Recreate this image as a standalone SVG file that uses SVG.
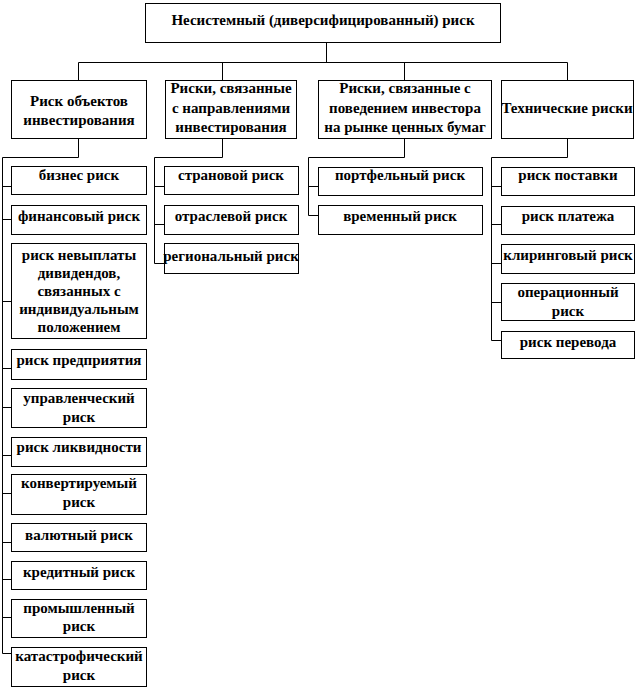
<svg xmlns="http://www.w3.org/2000/svg" width="638" height="688" viewBox="0 0 638 688">
<style>
rect{fill:#fff;stroke:#000;stroke-width:1}
text{font-family:"Liberation Serif","Times New Roman",serif;font-weight:bold;font-size:15px;fill:#000;text-anchor:middle;dominant-baseline:central}
.c path{fill:none;stroke:#000;stroke-width:1}
</style>
<rect x="0" y="0" width="638" height="688" style="stroke:none"/>
<g class="c" id="connectors">
<path d="M326.5 42V62.5M78.5 62.5H567.5M78.5 62.5V80M222.5 62.5V80M404.5 62.5V80M567.5 62.5V80"/>
<path d="M78.5 138V157.5H2.5V653.5M2.5 186.5H11M2.5 219.5H11M2.5 301.5H11M2.5 368.5H11M2.5 407.5H11M2.5 455.5H11M2.5 493.5H11M2.5 542.5H11M2.5 579.5H11M2.5 617.5H11M2.5 653.5H11"/>
<path d="M222.5 138V157.5H154.5V263.5M154.5 186.5H164M154.5 224.5H164M154.5 263.5H164"/>
<path d="M404.5 138V157.5H308.5V215.5M308.5 186.5H318M308.5 215.5H318"/>
<path d="M567.5 138V157.5H491.5V340.5M491.5 186.5H501M491.5 224.5H501M491.5 263.5H501M491.5 302.5H501M491.5 340.5H501"/>
</g>
<g id="root"><rect x="145.5" y="3.5" width="355" height="39"/><text x="323" y="20">Несистемный (диверсифицированный) риск</text></g>
<g id="n1"><rect x="11.5" y="80.5" width="135" height="58"/><text x="79" y="101">Риск объектов</text><text x="79" y="120">инвестирования</text></g>
<g id="n2"><rect x="165.5" y="80.5" width="131" height="58"/><text x="231" y="88">Риски, связанные</text><text x="231" y="108">с направлениями</text><text x="231" y="127">инвестирования</text></g>
<g id="n3"><rect x="318.5" y="80.5" width="173" height="58"/><text x="405" y="88">Риски, связанные с</text><text x="405" y="108">поведением инвестора</text><text x="405" y="127">на рынке ценных бумаг</text></g>
<g id="n4"><rect x="501.5" y="80.5" width="132" height="58"/><text x="567" y="108">Технические риски</text></g>
<g id="c1a"><rect x="11.5" y="166.5" width="135" height="28"/><text x="79" y="175">бизнес риск</text></g>
<g id="c1b"><rect x="11.5" y="205.5" width="135" height="29"/><text x="79" y="216">финансовый риск</text></g>
<g id="c1c"><rect x="11.5" y="243.5" width="135" height="95"/><text x="79" y="255">риск невыплаты</text><text x="79" y="273">дивидендов,</text><text x="79" y="291">связанных с</text><text x="79" y="309">индивидуальным</text><text x="79" y="327">положением</text></g>
<g id="c1d"><rect x="11.5" y="349.5" width="135" height="30"/><text x="79" y="360">риск предприятия</text></g>
<g id="c1e"><rect x="11.5" y="388.5" width="135" height="39"/><text x="79" y="398">управленческий</text><text x="79" y="417">риск</text></g>
<g id="c1f"><rect x="11.5" y="437.5" width="135" height="29"/><text x="79" y="447">риск ликвидности</text></g>
<g id="c1g"><rect x="11.5" y="474.5" width="135" height="40"/><text x="79" y="483">конвертируемый</text><text x="79" y="502">риск</text></g>
<g id="c1h"><rect x="11.5" y="523.5" width="135" height="28"/><text x="79" y="535">валютный риск</text></g>
<g id="c1i"><rect x="11.5" y="561.5" width="135" height="28"/><text x="79" y="572">кредитный риск</text></g>
<g id="c1j"><rect x="11.5" y="599.5" width="135" height="38"/><text x="79" y="608">промышленный</text><text x="79" y="626">риск</text></g>
<g id="c1k"><rect x="11.5" y="647.5" width="135" height="39"/><text x="79" y="656">катастрофический</text><text x="79" y="675">риск</text></g>
<g id="c2a"><rect x="164.5" y="166.5" width="134" height="28"/><text x="231" y="175">страновой риск</text></g>
<g id="c2b"><rect x="164.5" y="205.5" width="134" height="29"/><text x="231" y="216">отраслевой риск</text></g>
<g id="c2c"><rect x="164.5" y="243.5" width="134" height="30"/><text x="231" y="256">региональный риск</text></g>
<g id="c3a"><rect x="318.5" y="167.5" width="164" height="28"/><text x="400" y="175">портфельный риск</text></g>
<g id="c3b"><rect x="318.5" y="205.5" width="164" height="29"/><text x="400" y="216">временный риск</text></g>
<g id="c4a"><rect x="501.5" y="167.5" width="133" height="28"/><text x="568" y="175">риск поставки</text></g>
<g id="c4b"><rect x="501.5" y="206.5" width="133" height="28"/><text x="568" y="216">риск платежа</text></g>
<g id="c4c"><rect x="501.5" y="244.5" width="133" height="29"/><text x="568" y="255">клиринговый риск</text></g>
<g id="c4d"><rect x="501.5" y="283.5" width="133" height="37"/><text x="568" y="292">операционный</text><text x="568" y="311">риск</text></g>
<g id="c4e"><rect x="501.5" y="331.5" width="133" height="27"/><text x="568" y="342">риск перевода</text></g>
</svg>
